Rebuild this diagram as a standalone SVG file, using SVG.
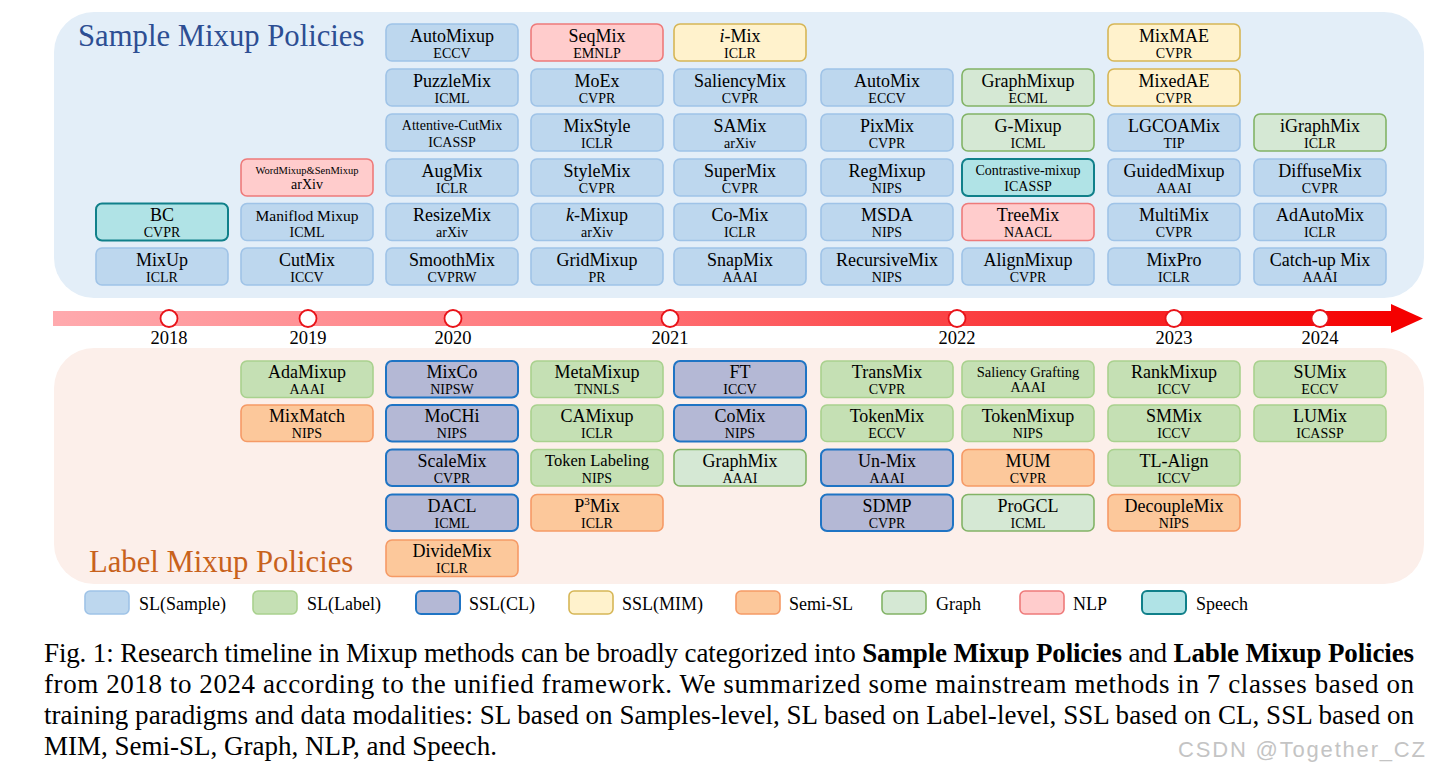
<svg xmlns="http://www.w3.org/2000/svg" width="1431" height="777" viewBox="0 0 1431 777">
<defs>
<linearGradient id="tl" x1="0" y1="0" x2="1" y2="0">
<stop offset="0" stop-color="#ffaaae"/>
<stop offset="0.45" stop-color="#ff6e72"/>
<stop offset="1" stop-color="#f50000"/>
</linearGradient>
<style>
text{font-family:"Liberation Serif","Times New Roman",serif;fill:#000}
.n{font-size:18px;text-anchor:middle}
.v{font-size:14px;text-anchor:middle}
.b{stroke-width:1.6}
.sl{fill:#bdd7ee;stroke:#9fc3e7}
.lb{fill:#c5e0b4;stroke:#a9d18e}
.cl{fill:#b4b8d5;stroke:#1f74c4;stroke-width:2}
.mim{fill:#fff2cc;stroke:#d6b656}
.semi{fill:#fcc89b;stroke:#f59a66}
.gr{fill:#d5e8d4;stroke:#82b366}
.nlp{fill:#ffcccc;stroke:#ee7a7a}
.sp{fill:#b0e3e6;stroke:#10808a;stroke-width:2}
.yr{font-size:18.5px;text-anchor:middle}
.lg{font-size:18px}
.cap{font-size:27px}
</style>
</defs>
<rect width="1431" height="777" fill="#ffffff"/>
<g id="panels">
<rect x="54" y="12" width="1370" height="286" rx="40" fill="#e3eef8"/>
<rect x="54" y="348" width="1370" height="236" rx="40" fill="#fcefea"/>
<text x="78" y="46" font-size="30.7" style="fill:#2d4e93">Sample Mixup Policies</text>
<text x="89" y="572" font-size="30.7" style="fill:#c8621c">Label Mixup Policies</text>
</g>
<g id="connectors">
<rect x="53" y="311" width="1339" height="15" fill="url(#tl)"/>
<polygon points="1391,304 1423,318.5 1391,333" fill="#f50000"/>
</g>
<g id="timeline">
<g fill="#ffffff" stroke="#e8141a" stroke-width="1.8">
<circle cx="169" cy="318.5" r="8.5"/>
<circle cx="308" cy="318.5" r="8.5"/>
<circle cx="453" cy="318.5" r="8.5"/>
<circle cx="670" cy="318.5" r="8.5"/>
<circle cx="957" cy="318.5" r="8.5"/>
<circle cx="1174" cy="318.5" r="8.5"/>
<circle cx="1320" cy="318.5" r="8.5"/>
</g>
<text class="yr" x="169" y="344">2018</text>
<text class="yr" x="308" y="344">2019</text>
<text class="yr" x="453" y="344">2020</text>
<text class="yr" x="670" y="344">2021</text>
<text class="yr" x="957" y="344">2022</text>
<text class="yr" x="1174" y="344">2023</text>
<text class="yr" x="1320" y="344">2024</text>
</g>
<g id="sample-nodes">
<g id="bc" transform="translate(96,203.5)"><rect class="b sp" width="132" height="37" rx="6"/><text class="n" x="66" y="17.5">BC</text><text class="v" x="66" y="33.5">CVPR</text></g>
<g id="mixup" transform="translate(96,248)"><rect class="b sl" width="132" height="37" rx="6"/><text class="n" x="66" y="17.5">MixUp</text><text class="v" x="66" y="33.5">ICLR</text></g>
<g id="wordmixup" transform="translate(241,159)"><rect class="b nlp" width="132" height="37" rx="6"/><text class="n" x="66" y="14.5" style="font-size:10.5px">WordMixup&amp;SenMixup</text><text class="v" x="66" y="30">arXiv</text></g>
<g id="manifold" transform="translate(241,203.5)"><rect class="b sl" width="132" height="37" rx="6"/><text class="n" x="66" y="17" style="font-size:15.5px">Maniflod Mixup</text><text class="v" x="66" y="33.5">ICML</text></g>
<g id="cutmix" transform="translate(241,248)"><rect class="b sl" width="132" height="37" rx="6"/><text class="n" x="66" y="17.5">CutMix</text><text class="v" x="66" y="33.5">ICCV</text></g>
<g id="automixup" transform="translate(386,24)"><rect class="b sl" width="132" height="37" rx="6"/><text class="n" x="66" y="17.5">AutoMixup</text><text class="v" x="66" y="33.5">ECCV</text></g>
<g id="puzzlemix" transform="translate(386,69)"><rect class="b sl" width="132" height="37" rx="6"/><text class="n" x="66" y="17.5">PuzzleMix</text><text class="v" x="66" y="33.5">ICML</text></g>
<g id="attentive" transform="translate(386,114)"><rect class="b sl" width="132" height="37" rx="6"/><text class="n" x="66" y="16" style="font-size:14px">Attentive-CutMix</text><text class="v" x="66" y="32.5">ICASSP</text></g>
<g id="augmix" transform="translate(386,159)"><rect class="b sl" width="132" height="37" rx="6"/><text class="n" x="66" y="17.5">AugMix</text><text class="v" x="66" y="33.5">ICLR</text></g>
<g id="resizemix" transform="translate(386,203.5)"><rect class="b sl" width="132" height="37" rx="6"/><text class="n" x="66" y="17.5">ResizeMix</text><text class="v" x="66" y="33.5">arXiv</text></g>
<g id="smoothmix" transform="translate(386,248)"><rect class="b sl" width="132" height="37" rx="6"/><text class="n" x="66" y="17.5">SmoothMix</text><text class="v" x="66" y="33.5">CVPRW</text></g>
<g id="seqmix" transform="translate(531,24)"><rect class="b nlp" width="132" height="37" rx="6"/><text class="n" x="66" y="17.5">SeqMix</text><text class="v" x="66" y="33.5">EMNLP</text></g>
<g id="moex" transform="translate(531,69)"><rect class="b sl" width="132" height="37" rx="6"/><text class="n" x="66" y="17.5">MoEx</text><text class="v" x="66" y="33.5">CVPR</text></g>
<g id="mixstyle" transform="translate(531,114)"><rect class="b sl" width="132" height="37" rx="6"/><text class="n" x="66" y="17.5">MixStyle</text><text class="v" x="66" y="33.5">ICLR</text></g>
<g id="stylemix" transform="translate(531,159)"><rect class="b sl" width="132" height="37" rx="6"/><text class="n" x="66" y="17.5">StyleMix</text><text class="v" x="66" y="33.5">CVPR</text></g>
<g id="kmixup" transform="translate(531,203.5)"><rect class="b sl" width="132" height="37" rx="6"/><text class="n" x="66" y="17.5"><tspan font-style="italic">k</tspan>-Mixup</text><text class="v" x="66" y="33.5">arXiv</text></g>
<g id="gridmixup" transform="translate(531,248)"><rect class="b sl" width="132" height="37" rx="6"/><text class="n" x="66" y="17.5">GridMixup</text><text class="v" x="66" y="33.5">PR</text></g>
<g id="imix" transform="translate(674,24)"><rect class="b mim" width="132" height="37" rx="6"/><text class="n" x="66" y="17.5"><tspan font-style="italic">i</tspan>-Mix</text><text class="v" x="66" y="33.5">ICLR</text></g>
<g id="saliencymix" transform="translate(674,69)"><rect class="b sl" width="132" height="37" rx="6"/><text class="n" x="66" y="17.5">SaliencyMix</text><text class="v" x="66" y="33.5">CVPR</text></g>
<g id="samix" transform="translate(674,114)"><rect class="b sl" width="132" height="37" rx="6"/><text class="n" x="66" y="17.5">SAMix</text><text class="v" x="66" y="33.5">arXiv</text></g>
<g id="supermix" transform="translate(674,159)"><rect class="b sl" width="132" height="37" rx="6"/><text class="n" x="66" y="17.5">SuperMix</text><text class="v" x="66" y="33.5">CVPR</text></g>
<g id="comix-s" transform="translate(674,203.5)"><rect class="b sl" width="132" height="37" rx="6"/><text class="n" x="66" y="17.5">Co-Mix</text><text class="v" x="66" y="33.5">ICLR</text></g>
<g id="snapmix" transform="translate(674,248)"><rect class="b sl" width="132" height="37" rx="6"/><text class="n" x="66" y="17.5">SnapMix</text><text class="v" x="66" y="33.5">AAAI</text></g>
<g id="automix" transform="translate(821,69)"><rect class="b sl" width="132" height="37" rx="6"/><text class="n" x="66" y="17.5">AutoMix</text><text class="v" x="66" y="33.5">ECCV</text></g>
<g id="pixmix" transform="translate(821,114)"><rect class="b sl" width="132" height="37" rx="6"/><text class="n" x="66" y="17.5">PixMix</text><text class="v" x="66" y="33.5">CVPR</text></g>
<g id="regmixup" transform="translate(821,159)"><rect class="b sl" width="132" height="37" rx="6"/><text class="n" x="66" y="17.5">RegMixup</text><text class="v" x="66" y="33.5">NIPS</text></g>
<g id="msda" transform="translate(821,203.5)"><rect class="b sl" width="132" height="37" rx="6"/><text class="n" x="66" y="17.5">MSDA</text><text class="v" x="66" y="33.5">NIPS</text></g>
<g id="recursivemix" transform="translate(821,248)"><rect class="b sl" width="132" height="37" rx="6"/><text class="n" x="66" y="17.5">RecursiveMix</text><text class="v" x="66" y="33.5">NIPS</text></g>
<g id="graphmixup" transform="translate(962,69)"><rect class="b gr" width="132" height="37" rx="6"/><text class="n" x="66" y="17.5">GraphMixup</text><text class="v" x="66" y="33.5">ECML</text></g>
<g id="gmixup" transform="translate(962,114)"><rect class="b gr" width="132" height="37" rx="6"/><text class="n" x="66" y="17.5">G-Mixup</text><text class="v" x="66" y="33.5">ICML</text></g>
<g id="contrastive" transform="translate(962,159)"><rect class="b sp" width="132" height="37" rx="6"/><text class="n" x="66" y="16" style="font-size:14px">Contrastive-mixup</text><text class="v" x="66" y="31.5">ICASSP</text></g>
<g id="treemix" transform="translate(962,203.5)"><rect class="b nlp" width="132" height="37" rx="6"/><text class="n" x="66" y="17.5">TreeMix</text><text class="v" x="66" y="33.5">NAACL</text></g>
<g id="alignmixup" transform="translate(962,248)"><rect class="b sl" width="132" height="37" rx="6"/><text class="n" x="66" y="17.5">AlignMixup</text><text class="v" x="66" y="33.5">CVPR</text></g>
<g id="mixmae" transform="translate(1108,24)"><rect class="b mim" width="132" height="37" rx="6"/><text class="n" x="66" y="17.5">MixMAE</text><text class="v" x="66" y="33.5">CVPR</text></g>
<g id="mixedae" transform="translate(1108,69)"><rect class="b mim" width="132" height="37" rx="6"/><text class="n" x="66" y="17.5">MixedAE</text><text class="v" x="66" y="33.5">CVPR</text></g>
<g id="lgcoamix" transform="translate(1108,114)"><rect class="b sl" width="132" height="37" rx="6"/><text class="n" x="66" y="17.5">LGCOAMix</text><text class="v" x="66" y="33.5">TIP</text></g>
<g id="guidedmixup" transform="translate(1108,159)"><rect class="b sl" width="132" height="37" rx="6"/><text class="n" x="66" y="17.5">GuidedMixup</text><text class="v" x="66" y="33.5">AAAI</text></g>
<g id="multimix" transform="translate(1108,203.5)"><rect class="b sl" width="132" height="37" rx="6"/><text class="n" x="66" y="17.5">MultiMix</text><text class="v" x="66" y="33.5">CVPR</text></g>
<g id="mixpro" transform="translate(1108,248)"><rect class="b sl" width="132" height="37" rx="6"/><text class="n" x="66" y="17.5">MixPro</text><text class="v" x="66" y="33.5">ICLR</text></g>
<g id="igraphmix" transform="translate(1254,114)"><rect class="b gr" width="132" height="37" rx="6"/><text class="n" x="66" y="17.5">iGraphMix</text><text class="v" x="66" y="33.5">ICLR</text></g>
<g id="diffusemix" transform="translate(1254,159)"><rect class="b sl" width="132" height="37" rx="6"/><text class="n" x="66" y="17.5">DiffuseMix</text><text class="v" x="66" y="33.5">CVPR</text></g>
<g id="adautomix" transform="translate(1254,203.5)"><rect class="b sl" width="132" height="37" rx="6"/><text class="n" x="66" y="17.5">AdAutoMix</text><text class="v" x="66" y="33.5">ICLR</text></g>
<g id="catchup" transform="translate(1254,248)"><rect class="b sl" width="132" height="37" rx="6"/><text class="n" x="66" y="17.5">Catch-up Mix</text><text class="v" x="66" y="33.5">AAAI</text></g>
</g>
<g id="label-nodes">
<g id="adamixup" transform="translate(241,361)"><rect class="b lb" width="132" height="36.5" rx="6"/><text class="n" x="66" y="17">AdaMixup</text><text class="v" x="66" y="33">AAAI</text></g>
<g id="mixmatch" transform="translate(241,405)"><rect class="b semi" width="132" height="36.5" rx="6"/><text class="n" x="66" y="17">MixMatch</text><text class="v" x="66" y="33">NIPS</text></g>
<g id="mixco" transform="translate(386,361)"><rect class="b cl" width="132" height="36.5" rx="6"/><text class="n" x="66" y="17">MixCo</text><text class="v" x="66" y="33">NIPSW</text></g>
<g id="mochi" transform="translate(386,405)"><rect class="b cl" width="132" height="36.5" rx="6"/><text class="n" x="66" y="17">MoCHi</text><text class="v" x="66" y="33">NIPS</text></g>
<g id="scalemix" transform="translate(386,449.5)"><rect class="b cl" width="132" height="36.5" rx="6"/><text class="n" x="66" y="17">ScaleMix</text><text class="v" x="66" y="33">CVPR</text></g>
<g id="dacl" transform="translate(386,494.5)"><rect class="b cl" width="132" height="36.5" rx="6"/><text class="n" x="66" y="17">DACL</text><text class="v" x="66" y="33">ICML</text></g>
<g id="dividemix" transform="translate(386,540)"><rect class="b semi" width="132" height="36.5" rx="6"/><text class="n" x="66" y="17">DivideMix</text><text class="v" x="66" y="33">ICLR</text></g>
<g id="metamixup" transform="translate(531,361)"><rect class="b lb" width="132" height="36.5" rx="6"/><text class="n" x="66" y="17">MetaMixup</text><text class="v" x="66" y="33">TNNLS</text></g>
<g id="camixup" transform="translate(531,405)"><rect class="b lb" width="132" height="36.5" rx="6"/><text class="n" x="66" y="17">CAMixup</text><text class="v" x="66" y="33">ICLR</text></g>
<g id="tokenlabeling" transform="translate(531,449.5)"><rect class="b lb" width="132" height="36.5" rx="6"/><text class="n" x="66" y="16.5" style="font-size:16.5px">Token Labeling</text><text class="v" x="66" y="33">NIPS</text></g>
<g id="p3mix" transform="translate(531,494.5)"><rect class="b semi" width="132" height="36.5" rx="6"/><text class="n" x="66" y="17">P<tspan font-size="11" dy="-7">3</tspan><tspan dy="7">Mix</tspan></text><text class="v" x="66" y="33">ICLR</text></g>
<g id="ft" transform="translate(674,361)"><rect class="b cl" width="132" height="36.5" rx="6"/><text class="n" x="66" y="17">FT</text><text class="v" x="66" y="33">ICCV</text></g>
<g id="comix-l" transform="translate(674,405)"><rect class="b cl" width="132" height="36.5" rx="6"/><text class="n" x="66" y="17">CoMix</text><text class="v" x="66" y="33">NIPS</text></g>
<g id="graphmix" transform="translate(674,449.5)"><rect class="b gr" width="132" height="36.5" rx="6"/><text class="n" x="66" y="17">GraphMix</text><text class="v" x="66" y="33">AAAI</text></g>
<g id="transmix" transform="translate(821,361)"><rect class="b lb" width="132" height="36.5" rx="6"/><text class="n" x="66" y="17">TransMix</text><text class="v" x="66" y="33">CVPR</text></g>
<g id="tokenmix" transform="translate(821,405)"><rect class="b lb" width="132" height="36.5" rx="6"/><text class="n" x="66" y="17">TokenMix</text><text class="v" x="66" y="33">ECCV</text></g>
<g id="unmix" transform="translate(821,449.5)"><rect class="b cl" width="132" height="36.5" rx="6"/><text class="n" x="66" y="17">Un-Mix</text><text class="v" x="66" y="33">AAAI</text></g>
<g id="sdmp" transform="translate(821,494.5)"><rect class="b cl" width="132" height="36.5" rx="6"/><text class="n" x="66" y="17">SDMP</text><text class="v" x="66" y="33">CVPR</text></g>
<g id="saliencygrafting" transform="translate(962,361)"><rect class="b lb" width="132" height="36.5" rx="6"/><text class="n" x="66" y="15.5" style="font-size:14.5px">Saliency Grafting</text><text class="v" x="66" y="31">AAAI</text></g>
<g id="tokenmixup" transform="translate(962,405)"><rect class="b lb" width="132" height="36.5" rx="6"/><text class="n" x="66" y="17">TokenMixup</text><text class="v" x="66" y="33">NIPS</text></g>
<g id="mum" transform="translate(962,449.5)"><rect class="b semi" width="132" height="36.5" rx="6"/><text class="n" x="66" y="17">MUM</text><text class="v" x="66" y="33">CVPR</text></g>
<g id="progcl" transform="translate(962,494.5)"><rect class="b gr" width="132" height="36.5" rx="6"/><text class="n" x="66" y="17">ProGCL</text><text class="v" x="66" y="33">ICML</text></g>
<g id="rankmixup" transform="translate(1108,361)"><rect class="b lb" width="132" height="36.5" rx="6"/><text class="n" x="66" y="17">RankMixup</text><text class="v" x="66" y="33">ICCV</text></g>
<g id="smmix" transform="translate(1108,405)"><rect class="b lb" width="132" height="36.5" rx="6"/><text class="n" x="66" y="17">SMMix</text><text class="v" x="66" y="33">ICCV</text></g>
<g id="tlalign" transform="translate(1108,449.5)"><rect class="b lb" width="132" height="36.5" rx="6"/><text class="n" x="66" y="17">TL-Align</text><text class="v" x="66" y="33">ICCV</text></g>
<g id="decouplemix" transform="translate(1108,494.5)"><rect class="b semi" width="132" height="36.5" rx="6"/><text class="n" x="66" y="17">DecoupleMix</text><text class="v" x="66" y="33">NIPS</text></g>
<g id="sumix" transform="translate(1254,361)"><rect class="b lb" width="132" height="36.5" rx="6"/><text class="n" x="66" y="17">SUMix</text><text class="v" x="66" y="33">ECCV</text></g>
<g id="lumix" transform="translate(1254,405)"><rect class="b lb" width="132" height="36.5" rx="6"/><text class="n" x="66" y="17">LUMix</text><text class="v" x="66" y="33">ICASSP</text></g>
</g>
<g id="legend">
<rect class="b sl" x="85" y="591" width="44" height="23" rx="5"/><text class="lg" x="139" y="610">SL(Sample)</text>
<rect class="b lb" x="253" y="591" width="44" height="23" rx="5"/><text class="lg" x="307" y="610">SL(Label)</text>
<rect class="b cl" x="416" y="591" width="44" height="23" rx="5"/><text class="lg" x="469" y="610">SSL(CL)</text>
<rect class="b mim" x="569" y="591" width="44" height="23" rx="5"/><text class="lg" x="622" y="610">SSL(MIM)</text>
<rect class="b semi" x="736" y="591" width="44" height="23" rx="5"/><text class="lg" x="789" y="610">Semi-SL</text>
<rect class="b gr" x="882" y="591" width="44" height="23" rx="5"/><text class="lg" x="936" y="610">Graph</text>
<rect class="b nlp" x="1020" y="591" width="44" height="23" rx="5"/><text class="lg" x="1073" y="610">NLP</text>
<rect class="b sp" x="1142" y="591" width="44" height="23" rx="5"/><text class="lg" x="1196" y="610">Speech</text>
</g>
<g id="caption">
<text class="cap" x="44" y="662" textLength="1370" lengthAdjust="spacing">Fig. 1: Research timeline in Mixup methods can be broadly categorized into <tspan font-weight="bold">Sample Mixup Policies</tspan> and <tspan font-weight="bold">Lable Mixup Policies</tspan></text>
<text class="cap" x="44" y="693" textLength="1370" lengthAdjust="spacing">from 2018 to 2024 according to the unified framework. We summarized some mainstream methods in 7 classes based on</text>
<text class="cap" x="44" y="724" textLength="1370" lengthAdjust="spacing">training paradigms and data modalities: SL based on Samples-level, SL based on Label-level, SSL based on CL, SSL based on</text>
<text class="cap" x="44" y="755">MIM, Semi-SL, Graph, NLP, and Speech.</text>
</g>
<text x="1178" y="757" font-size="22" textLength="247" lengthAdjust="spacing" style="font-family:'Liberation Sans',Arial,sans-serif;fill:#c4c4c4">CSDN @Together_CZ</text>
</svg>
